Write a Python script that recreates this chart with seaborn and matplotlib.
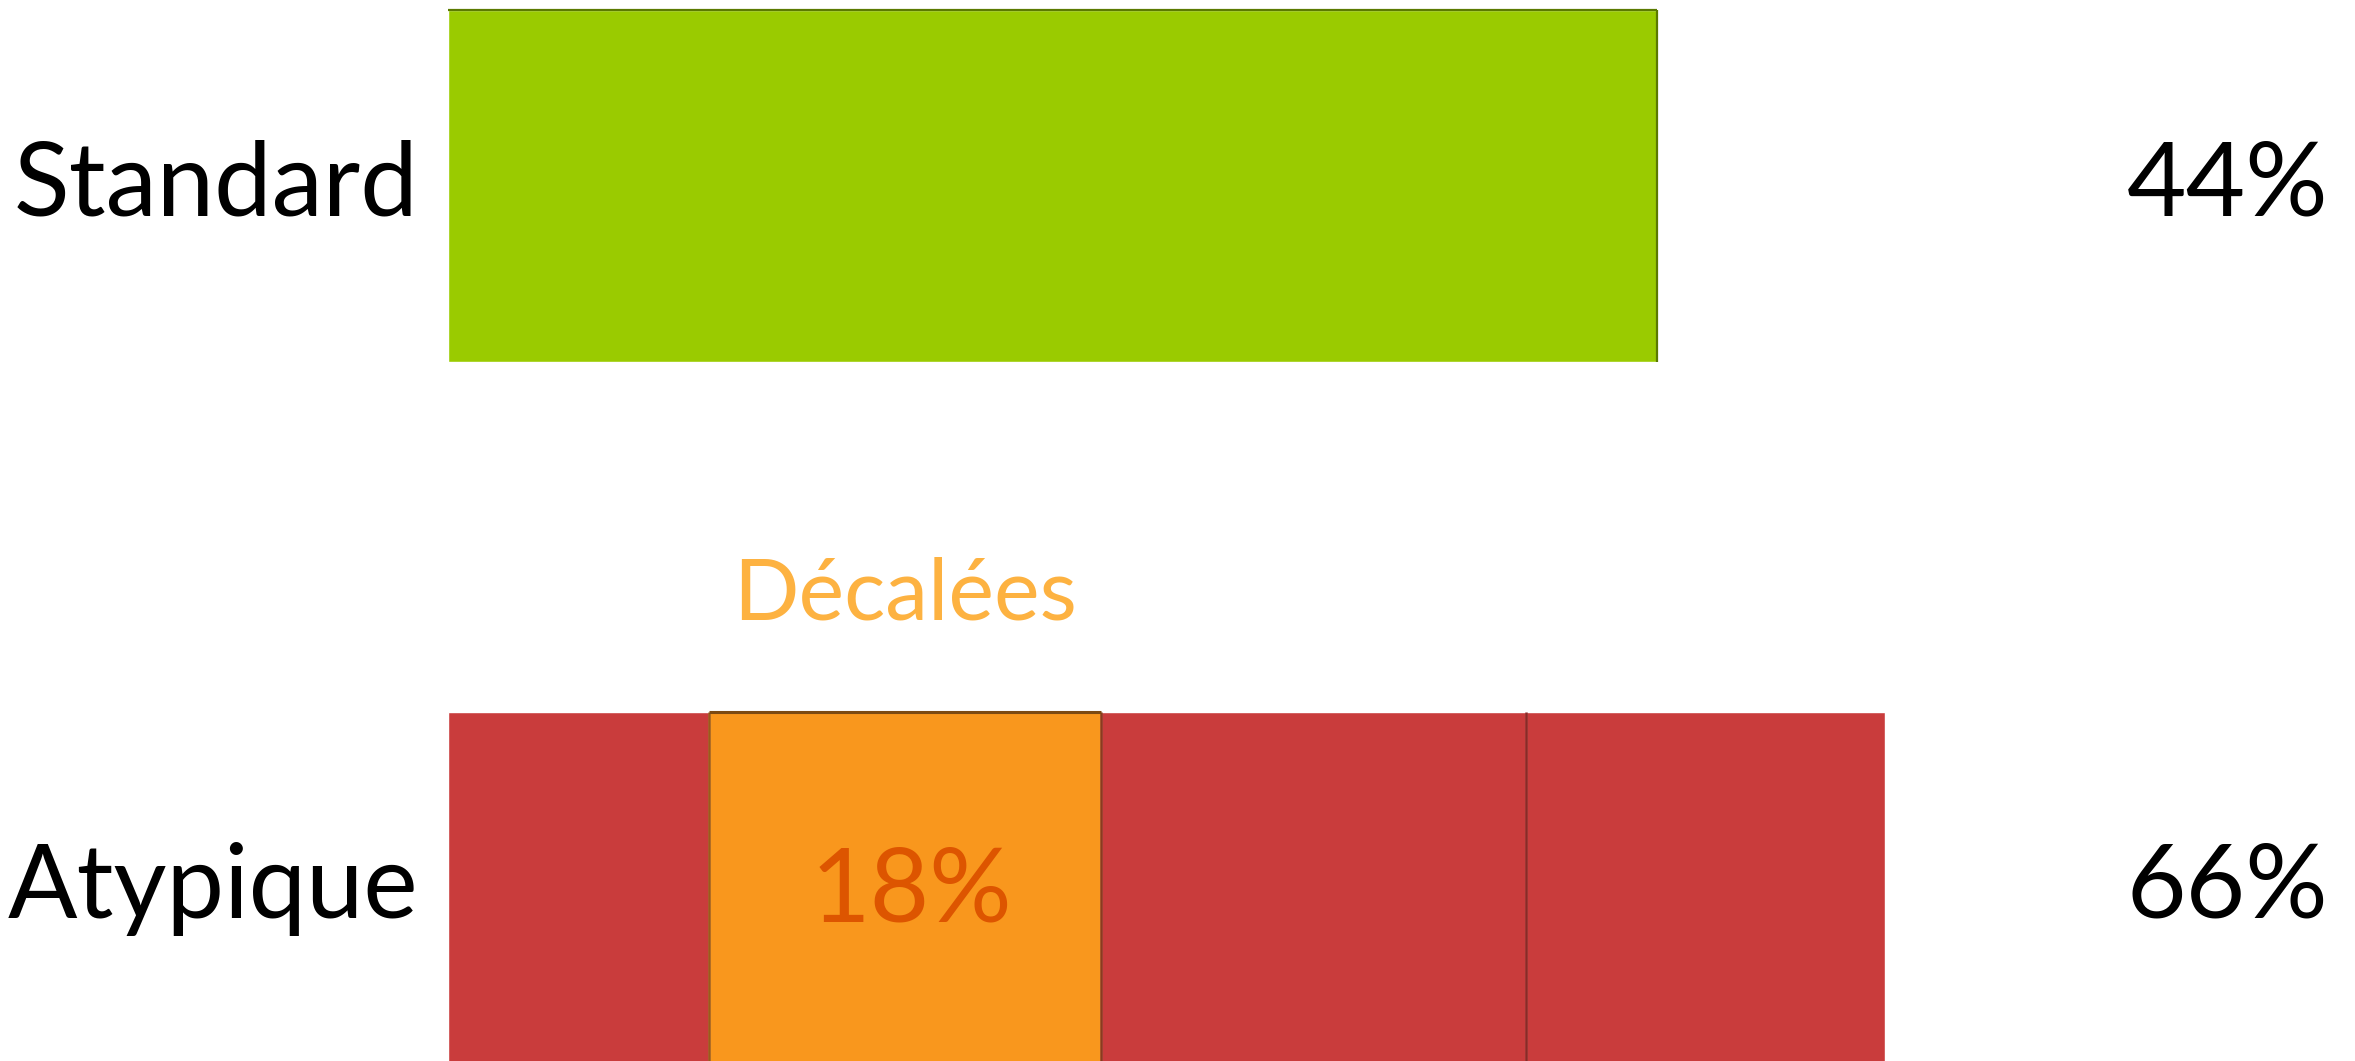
import matplotlib
matplotlib.use("Agg")
import matplotlib.pyplot as plt
import numpy as np
import seaborn as sns

# Data
categories = ["Standard", "Atypique"]
totals = [44, 66]
atypique_segments = [12, 18, 19.5, 16.5]
segment_labels = ["", "Décalées", "", ""]
highlight_index = 1

GREEN = "#9ACB00"
GREEN_DARK = "#5B7A00"
RED = "#C93C3C"
RED_DARK = "#8A2A26"
ORANGE = "#F9971D"
ORANGE_DARK = "#7C4A12"
LABEL_ORANGE = "#FDB241"
VALUE_ORANGE = "#DD5500"

sns.set_theme(style="white")
plt.rcParams["font.family"] = ["Lato", "DejaVu Sans"]

W, H = 2355, 1061
fig = plt.figure(figsize=(W / 100, H / 100), dpi=100)
fig.patch.set_facecolor("white")


def px_axes(left, top, width, height):
    return fig.add_axes([left / W, 1 - (top + height) / H, width / W, height / H])


ax_top = px_axes(448, 10, 1209, 352)
ax_bot = px_axes(448, 712, 1437, 352)

# Standard bar
sns.barplot(x=[totals[0]], y=[categories[0]], orient="h", color=GREEN,
            saturation=1, width=1, ax=ax_top)
ax_top.set_xlim(0, totals[0])
ax_top.set_ylim(0.5, -0.5)
ax_top.hlines(-0.5, 0, totals[0], color=GREEN_DARK, lw=1.6, clip_on=False)
ax_top.vlines(totals[0], -0.5, 0.5, color=GREEN_DARK, lw=1.6, clip_on=False)

# Atypique stacked bar: cumulative totals drawn from the largest down
cum = np.cumsum(atypique_segments)
seg_colors = [ORANGE if i == highlight_index else RED for i in range(len(atypique_segments))]
for i in reversed(range(len(cum))):
    sns.barplot(x=[cum[i]], y=[categories[1]], orient="h", color=seg_colors[i],
                saturation=1, width=1, ax=ax_bot)
ax_bot.set_xlim(0, cum[-1])
ax_bot.set_ylim(0.5, -0.5)

start = cum[highlight_index] - atypique_segments[highlight_index]
end = cum[highlight_index]
ax_bot.vlines(start, -0.5, 0.5, color="#9A5A1A", lw=1.8, clip_on=False)
ax_bot.vlines(end, -0.5, 0.5, color="#8A3A20", lw=1.8, clip_on=False)
ax_bot.vlines(cum[highlight_index + 1], -0.5, 0.5, color=RED_DARK, lw=1.8, clip_on=False)
ax_bot.hlines(-0.5, start, end, color=ORANGE_DARK, lw=2.2, clip_on=False)

for ax in (ax_top, ax_bot):
    ax.axis("off")

FS = 74

# Category names and totals
for ax, name, total in zip((ax_top, ax_bot), categories, totals):
    ax.annotate(name, xy=(0, 0), xycoords="data", xytext=(-30, -30),
                textcoords="offset pixels", ha="right", va="baseline",
                fontsize=FS, color="black", annotation_clip=False)
    ax.annotate(f"{total}%", xy=(2328 / W, 0), xycoords=("figure fraction", "data"),
                xytext=(0, -30), textcoords="offset pixels", ha="right",
                va="baseline", fontsize=FS, color="black", annotation_clip=False)

# Highlighted segment label and value
mid = (start + end) / 2
ax_bot.annotate(segment_labels[highlight_index], xy=(mid, -0.5), xytext=(0, 93),
                textcoords="offset pixels", ha="center", va="baseline",
                fontsize=62, color=LABEL_ORANGE, annotation_clip=False)
ax_bot.annotate(f"{atypique_segments[highlight_index]:g}%", xy=(mid, 0), xytext=(6, -33),
                textcoords="offset pixels", ha="center", va="baseline",
                fontsize=FS, color=VALUE_ORANGE, annotation_clip=False)

fig.savefig("out.png", dpi=100, facecolor="white")
